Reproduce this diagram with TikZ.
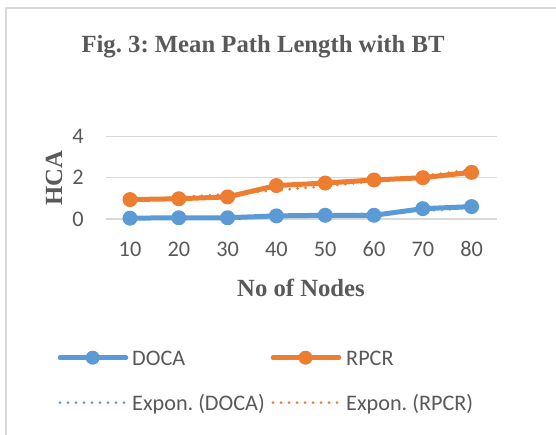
\documentclass[tikz,border=0pt]{standalone}
\usepackage{fontspec}
\newfontfamily\titlefont{Liberation Serif}
\newfontfamily\labelfont{Carlito}
\frenchspacing
\definecolor{txtgray}{HTML}{595959}
\definecolor{gridgray}{HTML}{D9D9D9}
\definecolor{framegray}{HTML}{D9D9D9}
\definecolor{docablue}{HTML}{5B9BD5}
\definecolor{rpcrorange}{HTML}{ED7D31}
\tikzset{
  boldtitle/.style={font=\titlefont\bfseries\fontsize{24.7}{28}\selectfont, text=txtgray, inner sep=0pt},
  ticklabel/.style={font=\labelfont\fontsize{22.3}{26}\selectfont, text=txtgray, inner sep=0pt},
  legendtext/.style={font=\labelfont\fontsize{22.2}{26}\selectfont, text=txtgray, inner sep=0pt, anchor=base west},
  gridline/.style={draw=gridgray, line width=1.5pt},
  seriesline/.style={line width=5pt, line join=round, line cap=round},
  trendline/.style={line width=3pt, line cap=round, dash pattern=on 0pt off 8pt},
  dotmark/.style={circle, inner sep=0pt, minimum size=15pt},
}
\begin{document}
\begin{tikzpicture}[x=1pt, y=-1pt]
  \useasboundingbox (0,0) rectangle (556,435);
  \fill[white] (0,0) rectangle (556,435);
  % chart area border (only left and top edges fall inside the page)
  \draw[framegray, line width=2pt] (6,440) -- (6,8) -- (560,8);

  % title
  \node[boldtitle, anchor=base] (title) at (263,53) {Fig. 3: Mean Path Length with BT};

  % horizontal grid lines
  \draw[gridline] (106,136.4) -- (496.5,136.4);
  \draw[gridline] (106,177.7) -- (496.5,177.7);
  \draw[gridline] (106,219) -- (496.5,219);

  % value axis labels
  \node[ticklabel, anchor=base east] (y4) at (84,143.5) {4};
  \node[ticklabel, anchor=base east] (y2) at (84,184.8) {2};
  \node[ticklabel, anchor=base east] (y0) at (84,226.1) {0};

  % axis titles
  \node[boldtitle, anchor=base, rotate=90] (ytitle) at (62,177.8) {HCA};
  \node[boldtitle, anchor=base] (xtitle) at (301,296.5) {No of Nodes};

  % data area: x = category index, y = value
  \begin{scope}[shift={(81.2,219)}, x=48.8pt, y=20.65pt]
    \foreach \i/\lab in {1/10,2/20,3/30,4/40,5/50,6/60,7/70,8/80}
      \node[ticklabel, anchor=base] (xl\i) at (\i,-1.83) {\lab};

    \foreach \i/\v in {1/0.04,2/0.06,3/0.06,4/0.15,5/0.18,6/0.18,7/0.50,8/0.60}
      \coordinate (d\i) at (\i,\v);
    \foreach \i/\v in {1/0.94,2/0.98,3/1.07,4/1.62,5/1.74,6/1.89,7/2.00,8/2.26}
      \coordinate (r\i) at (\i,\v);

    % exponential trendlines
    \draw[trendline, docablue] plot[domain=1:8, samples=60, smooth] (\x, {0.0308*exp(0.361*\x)});
    \draw[trendline, rpcrorange] plot[domain=1:8, samples=60, smooth] (\x, {0.803*exp(0.1367*\x)});

    % series lines
    \draw[seriesline, docablue] (d1) -- (d2) -- (d3) -- (d4) -- (d5) -- (d6) -- (d7) -- (d8);
    \draw[seriesline, rpcrorange] (r1) -- (r2) -- (r3) -- (r4) -- (r5) -- (r6) -- (r7) -- (r8);

    % markers
    \foreach \i in {1,...,8} {
      \node[dotmark, fill=docablue] (md\i) at (d\i) {};
      \node[dotmark, fill=rpcrorange] (mr\i) at (r\i) {};
    }
  \end{scope}

  % legend
  \coordinate (lga) at (60,357.7);  \coordinate (lgb) at (126,357.7);
  \coordinate (lgc) at (273,357.7); \coordinate (lgd) at (339,357.7);
  \coordinate (lge) at (60,402.7);  \coordinate (lgf) at (126,402.7);
  \coordinate (lgg) at (273,402.7); \coordinate (lgh) at (339,402.7);

  \draw[seriesline, line width=4.5pt, docablue] (lga) -- (lgb);
  \node[dotmark, minimum size=14pt, fill=docablue] (lgmd) at (92.7,357.7) {};
  \node[legendtext] (lgtd) at (132,365.2) {DOCA};

  \draw[seriesline, line width=4.5pt, rpcrorange] (lgc) -- (lgd);
  \node[dotmark, minimum size=14pt, fill=rpcrorange] (lgmr) at (305.5,357.7) {};
  \node[legendtext] (lgtr) at (346,365.2) {RPCR};

  \draw[trendline, docablue] (lge) -- (lgf);
  \node[legendtext] (lgte) at (132,410.2) {Expon. (DOCA)};

  \draw[trendline, rpcrorange] (lgg) -- (lgh);
  \node[legendtext] (lgtf) at (346,410.2) {Expon. (RPCR)};
\end{tikzpicture}
\end{document}
